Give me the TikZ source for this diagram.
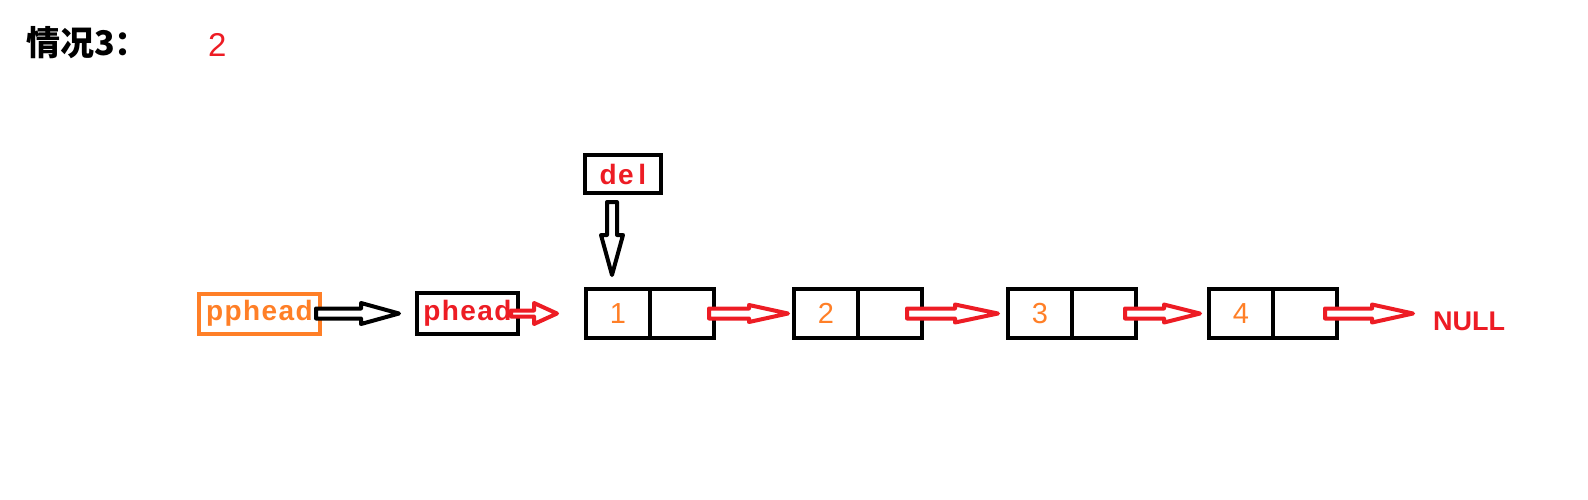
\documentclass[tikz,border=0pt]{standalone}
\usepackage{fontspec}
\setmainfont{Liberation Sans}
\newfontfamily\wide{Liberation Sans}[LetterSpace=5]
\newfontfamily\cjk{Noto Sans CJK SC}
\usetikzlibrary{positioning,calc}
\definecolor{paintred}{RGB}{237,28,36}
\definecolor{paintorange}{RGB}{255,127,39}

\begin{document}
\begin{tikzpicture}[x=1pt, y=-1pt,
    boxed/.style={draw, line width=4pt, inner sep=0pt, outer sep=0pt},
    cell/.style={boxed, minimum width=64pt, minimum height=49pt, text=paintorange, font=\fontsize{29}{29}\selectfont},
    nametext/.style={text=paintred, font=\wide\bfseries\fontsize{28}{28}\selectfont},
    hollow/.style n args={3}{line width=4pt, line join=round, fill=white, to path={
      let \p1=(\tikztostart), \p2=(\tikztotarget),
          \n1={atan2((\y2)-(\y1),(\x2)-(\x1))}, \n2={veclen((\x2)-(\x1),(\y2)-(\y1))-#3}
      in ($(\p1)+({\n1+90}:#1pt)$)
      -- ($(\p1)+(\n1:\n2)+({\n1+90}:#1pt)$)
      -- ($(\p1)+(\n1:\n2)+({\n1+90}:#2pt)$)
      -- (\p2)
      -- ($(\p1)+(\n1:\n2)+({\n1-90}:#2pt)$)
      -- ($(\p1)+(\n1:\n2)+({\n1-90}:#1pt)$)
      -- ($(\p1)+({\n1-90}:#1pt)$) -- cycle}}
  ]
  \useasboundingbox (0,0) rectangle (1588,499);

  % title
  \node[anchor=west, inner sep=0pt, font=\cjk\bfseries\fontsize{34}{34}\selectfont] (title) at (26,43) {情况3：};
  \node[anchor=west, inner sep=0pt, text=paintred, font=\fontsize{33}{33}\selectfont] (case) at (208,45) {2};

  % list
  \node[cell] (d1) at (618,313.5) {1};
  \node[cell, right=0pt of d1] (n1) {};
  \node[cell, right=80pt of n1] (d2) {2};
  \node[cell, right=0pt of d2] (n2) {};
  \node[cell, right=86pt of n2] (d3) {3};
  \node[cell, right=0pt of d3] (n3) {};
  \node[cell, right=73pt of n3] (d4) {4};
  \node[cell, right=0pt of d4] (n4) {};
  \node[text=paintred, inner sep=0pt, right=96pt of n4, yshift=-8pt, font=\bfseries\fontsize{27}{27}\selectfont] (null) {NULL};

  % pointers
  \node[boxed, nametext, minimum width=101pt, minimum height=41pt, left=68pt of d1] (phead) {phead};
  \node[boxed, draw=paintorange, text=paintorange, font=\wide\bfseries\fontsize{28}{28}\selectfont,
        minimum width=121pt, minimum height=40pt, left=97pt of phead] (pphead) {pphead};
  \node[boxed, nametext, minimum width=76pt, minimum height=38pt] (del) at (623,174) {de\,l};

  % arrows
  \draw[hollow={5}{10.5}{38}] ([xshift=-4pt]pphead.east) to ([xshift=-18pt]phead.west);
  \draw[hollow={3}{10.5}{23}, draw=paintred] ([xshift=-7pt]phead.east) to ([xshift=-29pt]d1.west);
  \draw[hollow={5}{11}{40}] ([xshift=-11pt,yshift=-9pt]del.south) to ([xshift=-6pt,yshift=14pt]d1.north);
  \draw[hollow={5}{8.5}{39}, draw=paintred] ([xshift=-5pt]n1.east) to ([xshift=-6pt]d2.west);
  \draw[hollow={5}{9}{43}, draw=paintred] ([xshift=-15pt]n2.east) to ([xshift=-10pt]d3.west);
  \draw[hollow={5}{9}{36}, draw=paintred] ([xshift=-11pt]n3.east) to ([xshift=-9pt]d4.west);
  \draw[hollow={5}{9}{41}, draw=paintred] ([xshift=-12pt]n4.east) to ($(null.west |- n4.east)+(-20,0)$);

\end{tikzpicture}
\end{document}
